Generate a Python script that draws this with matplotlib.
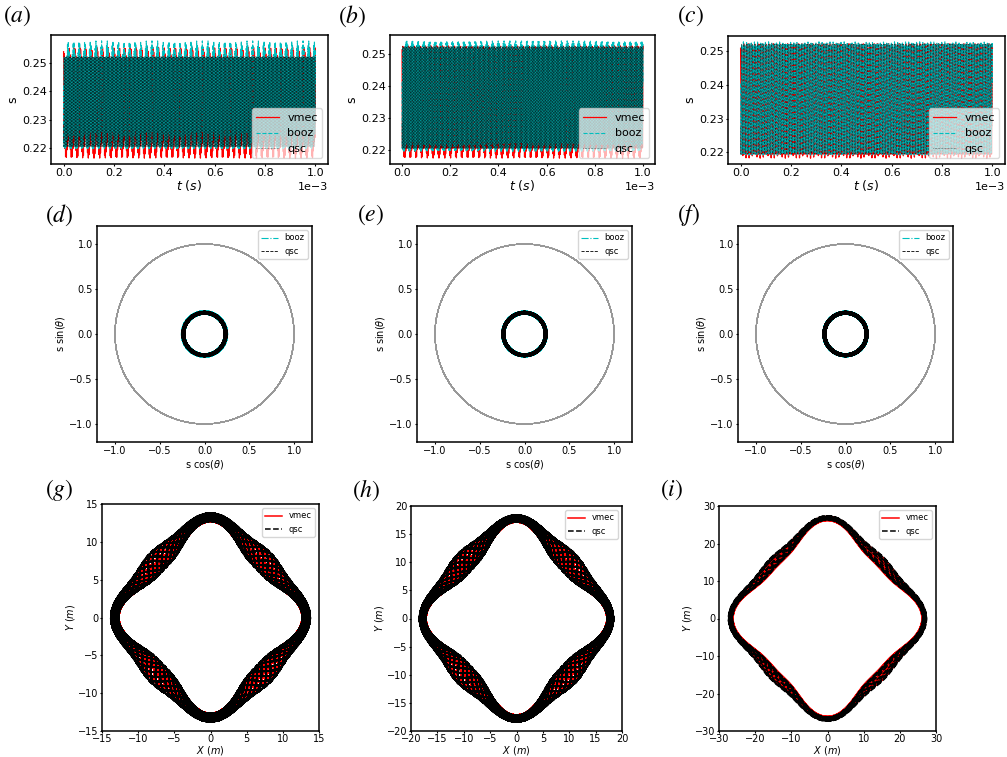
import numpy as np
import matplotlib.pyplot as plt

plt.rcParams['mathtext.fontset'] = 'dejavusans'

W, H = 1007, 757
fig = plt.figure(figsize=(W / 100, H / 100), dpi=100)

tags = ['(a)', '(b)', '(c)', '(d)', '(e)', '(f)', '(g)', '(h)', '(i)']

# s(t) (a)-(c): the dense band and the tips of the spikes
t_end = 1e-3
band_lo = [0.2205, 0.2205, 0.2195]
band_hi = [0.2522, 0.2522, 0.2522]
booz_lo = [0.2198, 0.2196, 0.2192]
booz_hi = [0.2578, 0.2540, 0.2528]
vmec_lo = [0.2165, 0.2175, 0.2183]
vmec_hi = [0.2555, 0.2525, 0.2522]
n_spikes = [45, 42, 70]
n_fast = [310, 290, 160]
n_pol = [233, 241, 257]

# X, Y orbits (g)-(i)
orb_vertex = [13.25, 17.8, 26.85]          # axis radius at the tips
shape_coef = [0.87, 0.105, 0.025]          # 1, cos4, cos8
orb_w0 = [1.0, 1.27, 0.95]
orb_w1 = [0.45, 0.67, 0.40]
orb_turns = [90, 90, 14]
orb_q = [7.3, 7.3, 0.31]
vmec_shift = [-0.15, -0.18, -0.2]
vmec_narrow = [0.8, 0.8, 1.0]
orb_lw = [1.1, 1.1, 1.1]
orb_lim = [15, 20, 30]
orb_ticks = [[-15, -10, -5, 0, 5, 10, 15],
             [-20, -15, -10, -5, 0, 5, 10, 15, 20],
             [-30, -20, -10, 0, 10, 20, 30]]

# axes boxes in pixels: left, right, top, bottom
row1 = [(51, 328, 35, 164), (390, 655, 35, 164), (728, 1005, 36, 164)]
row2 = [(97, 312, 226, 442), (417, 632, 226, 442), (738, 953, 226, 442)]
row3 = [(102, 319, 504, 731), (411, 622, 506, 731), (719, 936, 506, 731)]
tag_xy = [(3, 16), (338, 16), (677, 16),
          (45, 215), (357, 215), (677, 215),
          (45, 490), (352, 490), (660, 490)]


def px_axes(box):
    l, r, t, b = box
    ax = fig.add_axes([l / W, 1 - b / H, (r - l) / W, (b - t) / H])
    for sp in ax.spines.values():
        sp.set_linewidth(1.1)
    return ax


def s_trace(i, lo_tip, hi_tip, phase):
    u = np.linspace(0, 1, 16000)
    mid = (band_lo[i] + band_hi[i]) / 2
    half = (band_hi[i] - band_lo[i]) / 2
    slow = np.cos(2 * np.pi * n_spikes[i] * u + phase)
    shift = np.where(slow > 0, (hi_tip - band_hi[i]) * slow,
                     (band_lo[i] - lo_tip) * slow)
    return u, mid + half * np.cos(2 * np.pi * n_fast[i] * u + phase) + shift


for i in range(3):
    ax = px_axes(row1[i])
    u, sv = s_trace(i, vmec_lo[i], vmec_hi[i], 0.4)
    _, sb = s_trace(i, booz_lo[i], booz_hi[i], 1.3)
    _, sq = s_trace(i, band_lo[i], band_hi[i], 2.1)
    t = u * t_end
    ax.plot(t, sv, color='r', lw=0.9, label='vmec')
    ax.plot(t, sb, color='c', lw=0.8, ls='--', label='booz')
    ax.plot(t, sq, color='k', lw=0.4, ls=':', label='qsc')
    ax.ticklabel_format(axis='x', style='sci', scilimits=(0, 0))
    ax.set_xlabel('$t\\ (s)$', fontsize=9, labelpad=0)
    ax.set_ylabel('s', fontsize=9, labelpad=2)
    ax.set_yticks([0.22, 0.23, 0.24, 0.25])
    ax.tick_params(labelsize=8, length=1.5, pad=1.5)
    ax.xaxis.get_offset_text().set_fontsize(8)
    ax.legend(loc='lower right', fontsize=8, framealpha=0.7)

    ax = px_axes(row2[i])
    theta = 2 * np.pi * n_pol[i] * u
    ax.plot(np.cos(theta), np.sin(theta), color='0.6', lw=0.6)
    ax.plot(sb * np.cos(theta), sb * np.sin(theta), color='c', lw=0.8,
            ls='-.', label='booz')
    ax.plot(sq * np.cos(theta + 0.7), sq * np.sin(theta + 0.7), color='k',
            lw=0.6, ls='--', label='qsc')
    ax.set_xlim(-1.2, 1.2)
    ax.set_ylim(-1.2, 1.2)
    ax.set_xticks([-1.0, -0.5, 0.0, 0.5, 1.0])
    ax.set_yticks([-1.0, -0.5, 0.0, 0.5, 1.0])
    ax.set_xlabel('s cos($\\theta$)', fontsize=7, labelpad=1)
    ax.set_ylabel('s sin($\\theta$)', fontsize=7, labelpad=2)
    ax.tick_params(labelsize=7, length=1.5, pad=1.5)
    ax.legend(loc='upper right', fontsize=6)

    ax = px_axes(row3[i])
    phi = np.linspace(0, 2 * np.pi * orb_turns[i], orb_turns[i] * 400)
    c0, c4, c8 = shape_coef
    axis_R = orb_vertex[i] * (c0 + c4 * np.cos(4 * phi) + c8 * np.cos(8 * phi))
    width = orb_w0[i] - orb_w1[i] * np.cos(4 * phi)
    R_v = (axis_R + vmec_shift[i]
           + vmec_narrow[i] * width * np.cos(orb_q[i] * phi + 0.5))
    R_q = axis_R + width * np.cos(orb_q[i] * phi + 2.0)
    ax.plot(R_v * np.cos(phi), R_v * np.sin(phi), color='r',
            lw=orb_lw[i], label='vmec')
    ax.plot(R_q * np.cos(phi), R_q * np.sin(phi), color='k', lw=orb_lw[i],
            ls='--', label='qsc')
    ax.set_xlim(-orb_lim[i], orb_lim[i])
    ax.set_ylim(-orb_lim[i], orb_lim[i])
    ax.set_xticks(orb_ticks[i])
    ax.set_yticks(orb_ticks[i])
    ax.set_xlabel('$X\\ (m)$', fontsize=7, labelpad=0)
    ax.set_ylabel('$Y\\ (m)$', fontsize=7, labelpad=1)
    ax.tick_params(labelsize=7, length=1.5, pad=1)
    ax.legend(loc='upper right', fontsize=6)

for tag, (x, y) in zip(tags, tag_xy):
    fig.text(x / W, 1 - y / H, '$' + tag + '$', fontsize=17, ha='left',
             va='center', math_fontfamily='stix')

fig.savefig('out.png', dpi=100)
